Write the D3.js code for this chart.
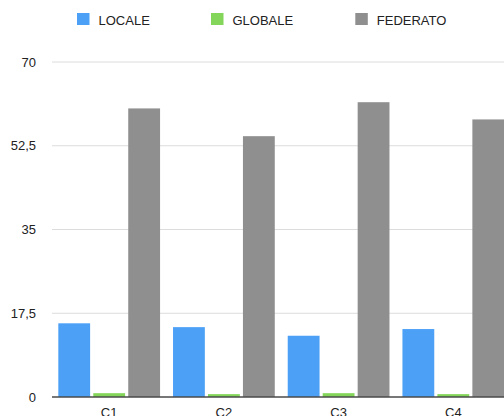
<!DOCTYPE html>
<html>
<head>
<meta charset="utf-8">
<script src="https://cdn.jsdelivr.net/npm/d3@7/dist/d3.min.js"></script>
<style>
  html, body { margin: 0; padding: 0; background: #fff; overflow: hidden; }
  svg { display: block; font-family: "Liberation Sans", Arial, Helvetica, sans-serif; }
</style>
</head>
<body>
<svg id="chart" width="504" height="416"></svg>
<script>
// Categories, series and tick values
const categories = ["C1", "C2", "C3", "C4"];
const seriesNames = ["LOCALE", "GLOBALE", "FEDERATO"];
const locale   = [15.4, 14.6, 12.8, 14.2];
const globale  = [0.8, 0.6, 0.8, 0.6];
const federato = [60.3, 54.5, 61.6, 58.0];
const yTicks = [0, 17.5, 35, 52.5, 70];
const colors = ["#4ca1f7", "#84d65a", "#8f8f8f"];

const seriesValues = [locale, globale, federato];
const rows = categories.map((c, i) => ({
  cat: c,
  vals: seriesNames.map((s, j) => ({ key: s, value: seriesValues[j][i], color: colors[j] }))
}));

const svg = d3.select("#chart");
const plotLeft = 52, plotRight = 510.5, plotTop = 62, plotBottom = 397;

const y = d3.scaleLinear().domain([0, 70]).range([plotBottom, plotTop]);
const x0 = d3.scaleBand().domain(categories).range([plotLeft, plotRight])
  .paddingInner(0.113).paddingOuter(0.055);
const x1 = d3.scaleBand().domain(seriesNames).range([0, x0.bandwidth()])
  .paddingInner(0.09).paddingOuter(0);

const fmt = d => String(d).replace(".", ",");

// Horizontal gridlines
svg.append("g").selectAll("line")
  .data(yTicks.filter(t => t > 0))
  .join("line")
  .attr("x1", plotLeft).attr("x2", 504)
  .attr("y1", d => y(d)).attr("y2", d => y(d))
  .attr("stroke", "#dcdcdc").attr("stroke-width", 1);

// Y axis labels
const yAxis = d3.axisLeft(y).tickValues(yTicks).tickFormat(fmt).tickSize(0).tickPadding(0);
const gy = svg.append("g").attr("transform", "translate(36,0)").call(yAxis);
gy.select(".domain").remove();
gy.selectAll("text").attr("font-size", 13).attr("fill", "#222")
  .attr("font-family", "Liberation Sans, Arial, sans-serif");

// Bars
const groups = svg.append("g").selectAll("g")
  .data(rows).join("g")
  .attr("transform", d => `translate(${x0(d.cat)},0)`);
groups.selectAll("rect")
  .data(d => d.vals).join("rect")
  .attr("x", d => x1(d.key))
  .attr("width", x1.bandwidth())
  .attr("y", d => y(d.value))
  .attr("height", d => y(0) - y(d.value))
  .attr("fill", d => d.color);

// Baseline
svg.append("line")
  .attr("x1", plotLeft).attr("x2", 504)
  .attr("y1", y(0)).attr("y2", y(0))
  .attr("stroke", "#4a4a4a").attr("stroke-width", 1.5);

// X axis labels
const xAxis = d3.axisBottom(x0).tickSize(0).tickPadding(11);
const gx = svg.append("g").attr("transform", `translate(0,${plotBottom})`).call(xAxis);
gx.select(".domain").remove();
gx.selectAll("text").attr("font-size", 13).attr("fill", "#222")
  .attr("font-family", "Liberation Sans, Arial, sans-serif");

// Legend
const legendX = [77, 211, 355.3];
const legend = svg.append("g").selectAll("g")
  .data(seriesNames).join("g")
  .attr("transform", (d, i) => `translate(${legendX[i]},13)`);
legend.append("rect")
  .attr("width", 12.5).attr("height", 12)
  .attr("fill", (d, i) => colors[i]);
legend.append("text")
  .attr("x", 21.5).attr("y", 11.5)
  .attr("font-size", 13).attr("fill", "#222")
  .text(d => d);
</script>
</body>
</html>
